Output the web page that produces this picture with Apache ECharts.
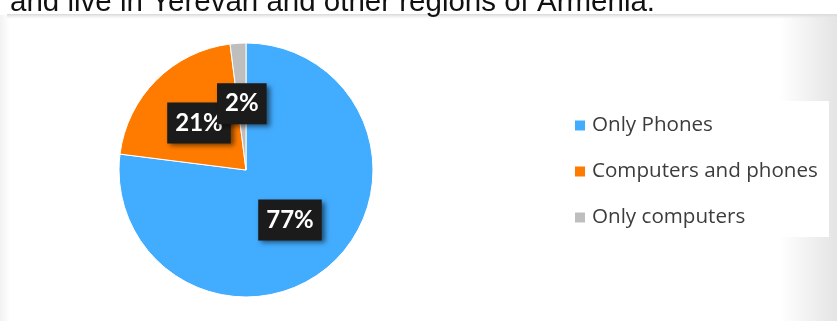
<!DOCTYPE html>
<html>
<head>
<meta charset="utf-8">
<style>
html,body{margin:0;padding:0;background:#fff;}
#chart{width:837px;height:321px;}
</style>
<script src="https://cdn.jsdelivr.net/npm/echarts@6/dist/echarts.min.js"></script>
</head>
<body>
<div id="chart"></div>
<script>
const categories = ['Only Phones', 'Computers and phones', 'Only computers'];
const values = [77, 21, 2];
const headerText = 'and live in Yerevan and other regions of Armenia.';

const colors = ['#42ACFF', '#FF7B00', '#BEBEBE'];

const chart = echarts.init(document.getElementById('chart'), null, {renderer: 'canvas'});
chart.setOption({
  backgroundColor: '#ffffff',
  animation: false,
  color: colors,
  graphic: [
    {
      type: 'rect', z: -10, silent: true,
      shape: {x: 780, y: 15, width: 57, height: 306},
      style: {fill: new echarts.graphic.LinearGradient(0, 0, 1, 0, [
        {offset: 0, color: 'rgba(228,228,228,0)'},
        {offset: 1, color: 'rgba(228,228,228,1)'}
      ])}
    },
    {
      type: 'rect', z: -10, silent: true,
      shape: {x: 0, y: 15, width: 10, height: 306},
      style: {fill: new echarts.graphic.LinearGradient(0, 0, 1, 0, [
        {offset: 0, color: 'rgba(242,242,242,1)'},
        {offset: 1, color: 'rgba(242,242,242,0)'}
      ])}
    },
    {
      type: 'rect', z: -9, silent: true,
      shape: {x: 7, y: 14, width: 830, height: 5},
      style: {fill: new echarts.graphic.LinearGradient(0, 0, 0, 1, [
        {offset: 0, color: 'rgba(215,215,215,1)'},
        {offset: 1, color: 'rgba(235,235,235,0)'}
      ])}
    },
    {
      type: 'rect', z: -8, silent: true,
      shape: {x: 555, y: 101, width: 274, height: 136},
      style: {fill: '#ffffff'}
    },
    {
      type: 'text', z: 5, silent: true,
      x: 10, y: 18,
      style: {
        text: headerText,
        font: '29.5px "Liberation Sans", Arial, sans-serif',
        fill: '#111111',
        verticalAlign: 'bottom',
        align: 'left'
      }
    }
  ],
  legend: {
    orient: 'vertical',
    left: 573,
    top: 115,
    padding: 0,
    itemWidth: 12,
    itemHeight: 12,
    itemGap: 25,
    icon: 'rect',
    data: categories,
    textStyle: {
      fontFamily: '"Open Sans", sans-serif',
      fontSize: 20.6,
      lineHeight: 20,
      color: '#3c3c3c',
      padding: [0, 0, 0, 1]
    }
  },
  series: [{
    type: 'pie',
    center: [246, 170],
    radius: [0, 127],
    startAngle: 90,
    clockwise: true,
    avoidLabelOverlap: false,
    labelLayout: {hideOverlap: false},
    itemStyle: {borderColor: '#ffffff', borderWidth: 1},
    label: {
      show: true,
      position: 'inside',
      formatter: '{c}%',
      color: '#ffffff',
      fontFamily: 'Lato, sans-serif',
      fontWeight: 'bold',
      fontSize: 24,
      lineHeight: 25,
      backgroundColor: '#1b1b1b',
      padding: [8, 8, 8, 8],
      shadowColor: 'rgba(0,0,0,0.55)',
      shadowBlur: 5,
      shadowOffsetX: 3,
      shadowOffsetY: 3
    },
    emphasis: {disabled: true},
    data: categories.map((name, i) => ({name: name, value: values[i]}))
  }]
});
</script>
</body>
</html>
